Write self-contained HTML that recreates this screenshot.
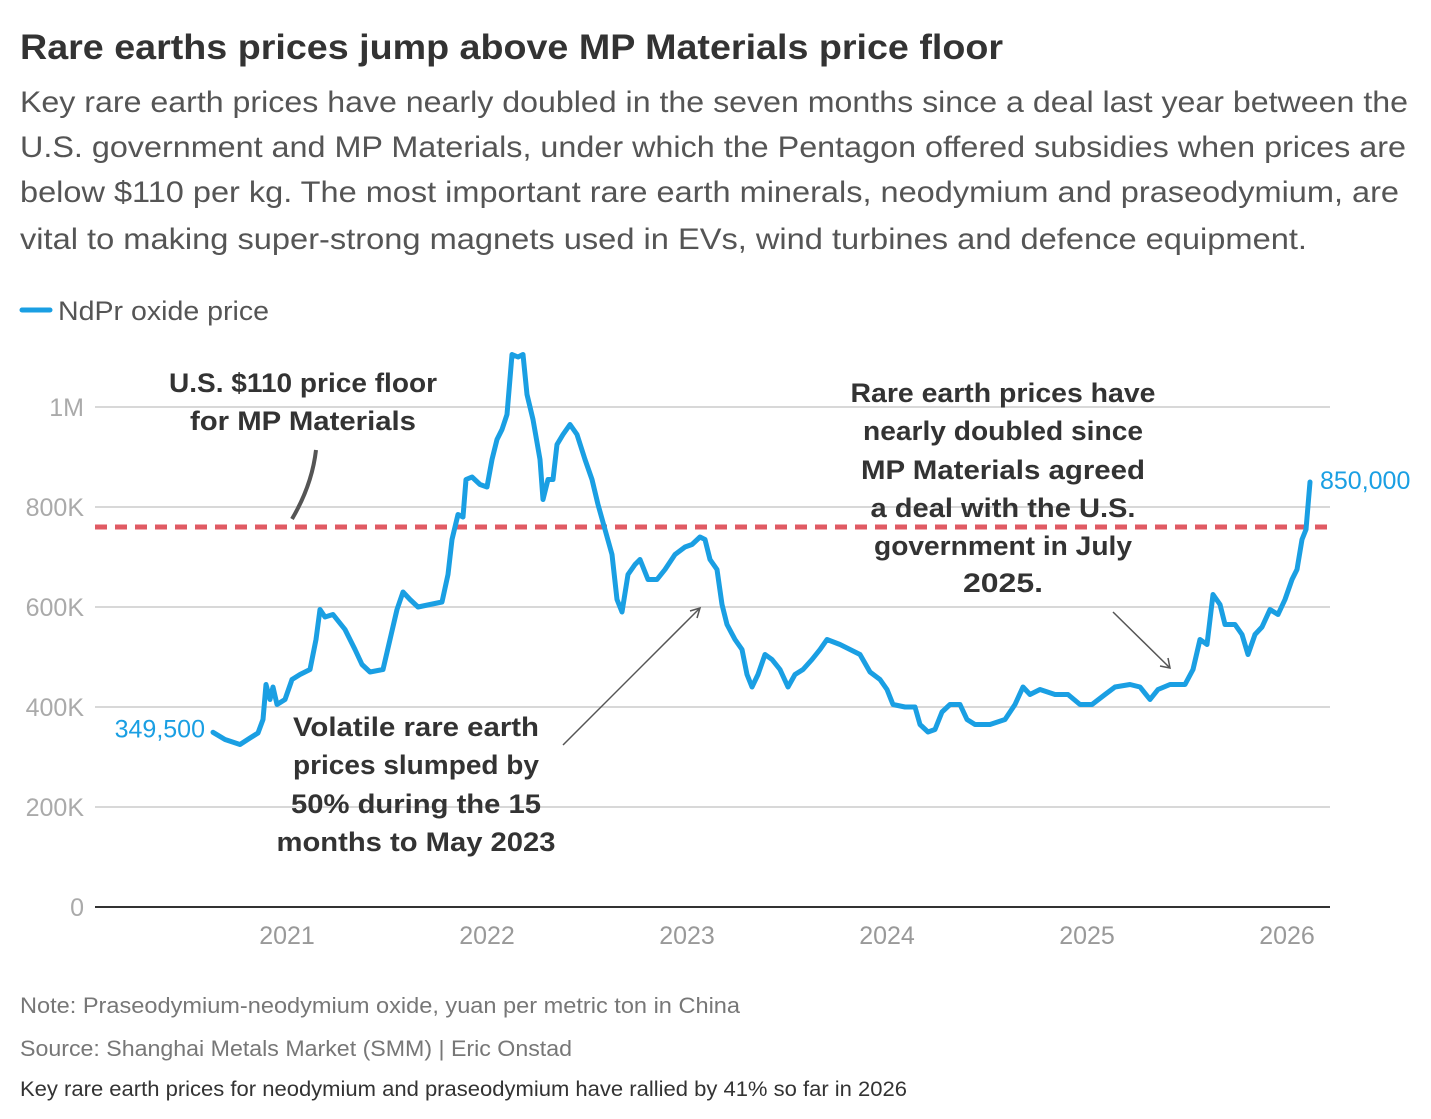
<!DOCTYPE html>
<html><head><meta charset="utf-8"><style>
html,body{margin:0;padding:0;background:#fff;width:1431px;height:1119px;overflow:hidden}
svg{display:block;font-family:"Liberation Sans",sans-serif}
</style></head><body>
<svg id="chart" width="1431" height="1119" viewBox="0 0 1431 1119">
<text x="20" y="59" font-size="35" font-weight="bold" fill="#333" textLength="983" lengthAdjust="spacingAndGlyphs">Rare earths prices jump above MP Materials price floor</text>
<g fill="#555" font-size="30">
<text x="20" y="112" textLength="1388" lengthAdjust="spacingAndGlyphs">Key rare earth prices have nearly doubled in the seven months since a deal last year between the</text>
<text x="20" y="157" textLength="1386" lengthAdjust="spacingAndGlyphs">U.S. government and MP Materials, under which the Pentagon offered subsidies when prices are</text>
<text x="20" y="202" textLength="1379" lengthAdjust="spacingAndGlyphs">below $110 per kg. The most important rare earth minerals, neodymium and praseodymium, are</text>
<text x="20" y="249" textLength="1287" lengthAdjust="spacingAndGlyphs">vital to making super-strong magnets used in EVs, wind turbines and defence equipment.</text>
</g>
<g>
<line x1="22" y1="310" x2="50" y2="310" stroke="#1a9fe3" stroke-width="5" stroke-linecap="round"/>
<text x="58" y="320" font-size="27" fill="#555" textLength="211" lengthAdjust="spacingAndGlyphs">NdPr oxide price</text>
</g>
<g id="grid"></g>
<g id="xaxis"></g>
<g id="floor"></g>
<g id="series"></g>
<g font-size="27" font-weight="bold" fill="#333" text-anchor="middle">
<text x="303" y="392" textLength="268" lengthAdjust="spacingAndGlyphs">U.S. $110 price floor</text>
<text x="303" y="430" textLength="226" lengthAdjust="spacingAndGlyphs">for MP Materials</text>
<text x="1003" y="402" textLength="305" lengthAdjust="spacingAndGlyphs">Rare earth prices have</text>
<text x="1003" y="440" textLength="280" lengthAdjust="spacingAndGlyphs">nearly doubled since</text>
<text x="1003" y="479" textLength="284" lengthAdjust="spacingAndGlyphs">MP Materials agreed</text>
<text x="1003" y="517" textLength="265" lengthAdjust="spacingAndGlyphs">a deal with the U.S.</text>
<text x="1003" y="555" textLength="258" lengthAdjust="spacingAndGlyphs">government in July</text>
<text x="1003" y="592" textLength="80" lengthAdjust="spacingAndGlyphs">2025.</text>
<text x="416" y="736" textLength="246" lengthAdjust="spacingAndGlyphs">Volatile rare earth</text>
<text x="416" y="774" textLength="246" lengthAdjust="spacingAndGlyphs">prices slumped by</text>
<text x="416" y="813" textLength="250" lengthAdjust="spacingAndGlyphs">50% during the 15</text>
<text x="416" y="851" textLength="279" lengthAdjust="spacingAndGlyphs">months to May 2023</text>
</g>
<path d="M316 450 Q312 485 292 519" fill="none" stroke="#555" stroke-width="4"/>
<g stroke="#555" stroke-width="1.5" fill="none">
<line x1="563" y1="745" x2="700" y2="608"/><polyline points="690,611 700,608 697,618"/>
<line x1="1113" y1="612" x2="1170" y2="668"/><polyline points="1160,666 1170,668 1168,658"/>
</g>
<g>
<text x="20" y="1013" font-size="22" fill="#777" textLength="720" lengthAdjust="spacingAndGlyphs">Note: Praseodymium-neodymium oxide, yuan per metric ton in China</text>
<text x="20" y="1056" font-size="22" fill="#777" textLength="552" lengthAdjust="spacingAndGlyphs">Source: Shanghai Metals Market (SMM) | Eric Onstad</text>
<text x="20" y="1096" font-size="21" fill="#333" textLength="887" lengthAdjust="spacingAndGlyphs">Key rare earth prices for neodymium and praseodymium have rallied by 41% so far in 2026</text>
</g>
</svg>
<script>
const yTicks=[0,200000,400000,600000,800000,1000000];
const yTickLabels=["0","200K","400K","600K","800K","1M"];
const xTicks=[2021,2022,2023,2024,2025,2026];
const floorValue=760000;
const dates=[2020.63,2020.69,2020.765,2020.815,2020.855,2020.88,2020.895,2020.915,2020.93,2020.95,2020.99,2021.025,2021.065,2021.115,2021.145,2021.165,2021.19,2021.23,2021.29,2021.34,2021.375,2021.415,2021.48,2021.515,2021.55,2021.58,2021.615,2021.655,2021.715,2021.775,2021.805,2021.825,2021.855,2021.88,2021.895,2021.925,2021.965,2022.0,2022.025,2022.05,2022.075,2022.1,2022.125,2022.155,2022.18,2022.2,2022.23,2022.265,2022.28,2022.305,2022.33,2022.35,2022.38,2022.415,2022.45,2022.49,2022.525,2022.555,2022.59,2022.625,2022.65,2022.675,2022.705,2022.74,2022.765,2022.805,2022.85,2022.89,2022.94,2022.99,2023.025,2023.065,2023.09,2023.115,2023.15,2023.175,2023.2,2023.24,2023.275,2023.3,2023.325,2023.355,2023.39,2023.425,2023.465,2023.505,2023.54,2023.58,2023.625,2023.665,2023.7,2023.765,2023.815,2023.865,2023.915,2023.965,2024.0,2024.03,2024.09,2024.14,2024.165,2024.205,2024.24,2024.275,2024.315,2024.365,2024.4,2024.44,2024.515,2024.59,2024.64,2024.68,2024.715,2024.765,2024.84,2024.905,2024.965,2025.025,2025.09,2025.14,2025.215,2025.265,2025.315,2025.355,2025.415,2025.49,2025.53,2025.565,2025.6,2025.63,2025.665,2025.69,2025.74,2025.775,2025.805,2025.84,2025.875,2025.915,2025.955,2025.99,2026.025,2026.05,2026.075,2026.095,2026.115];
const prices=[349.5,335,325,338,348,375,445,415,440,405,415,455,465,475,535,595,580,585,555,515,485,470,475,535,595,630,615,600,605,610,665,735,785,780,855,860,845,840,895,935,955,985,1105,1100,1105,1025,975,895,815,855,855,925,945,965,945,895,855,805,755,705,615,590,665,685,695,655,655,675,705,720,725,740,735,695,675,605,565,535,515,465,440,465,505,495,475,440,465,475,495,515,535,525,515,505,470,455,435,405,400,400,365,350,355,390,405,405,375,365,365,375,405,440,425,435,425,425,405,405,425,440,445,440,415,435,445,445,475,535,525,625,605,565,565,545,505,545,560,595,585,615,655,675,735,755,850];
const NS="http://www.w3.org/2000/svg";
const xS=d=>287+(d-2021)*200;
const yS=v=>907-v*0.0005;
function mk(tag,attrs,parent,text){const e=document.createElementNS(NS,tag);for(const k in attrs)e.setAttribute(k,attrs[k]);if(text!==undefined)e.textContent=text;parent.appendChild(e);return e;}
const grid=document.getElementById('grid');
yTicks.forEach((v,i)=>{
  const l=mk('line',{x1:95,x2:1330,y1:yS(v),y2:yS(v),stroke:v===0?'#333':'#ccc','stroke-width':v===0?2:1.5},grid);
  
  
  const t=mk('text',{x:84,y:yS(v)+9,'text-anchor':'end','font-size':25,fill:'#aaa'},grid,yTickLabels[i]);
  
  
});
const xa=document.getElementById('xaxis');
xTicks.forEach(y=>{
  const t=mk('text',{x:xS(y),y:944,'text-anchor':'middle','font-size':25,fill:'#999'},xa,String(y));
  
  
});
const fl=mk('line',{x1:95,x2:1330,y1:yS(floorValue),y2:yS(floorValue),stroke:'#e05a63','stroke-width':5,'stroke-dasharray':'12 8'},document.getElementById('floor'));


const sg=document.getElementById('series');
const d=dates.map((x,i)=>(i?'L':'M')+xS(x).toFixed(1)+' '+yS(prices[i]*1000).toFixed(1)).join(' ');
const p=mk('path',{d:d,fill:'none',stroke:'#1a9fe3','stroke-width':5,'stroke-linejoin':'round','stroke-linecap':'round'},sg);


const f=mk('text',{x:xS(dates[0])-8,y:yS(prices[0]*1000)+5,'text-anchor':'end','font-size':25,fill:'#1a9fe3'},sg,(prices[0]*1000).toLocaleString('en-US'));


const n=prices.length-1;
const la=mk('text',{x:xS(dates[n])+10,y:yS(prices[n]*1000)+7,'font-size':25,fill:'#1a9fe3'},sg,(prices[n]*1000).toLocaleString('en-US'));


</script>
</body></html>
